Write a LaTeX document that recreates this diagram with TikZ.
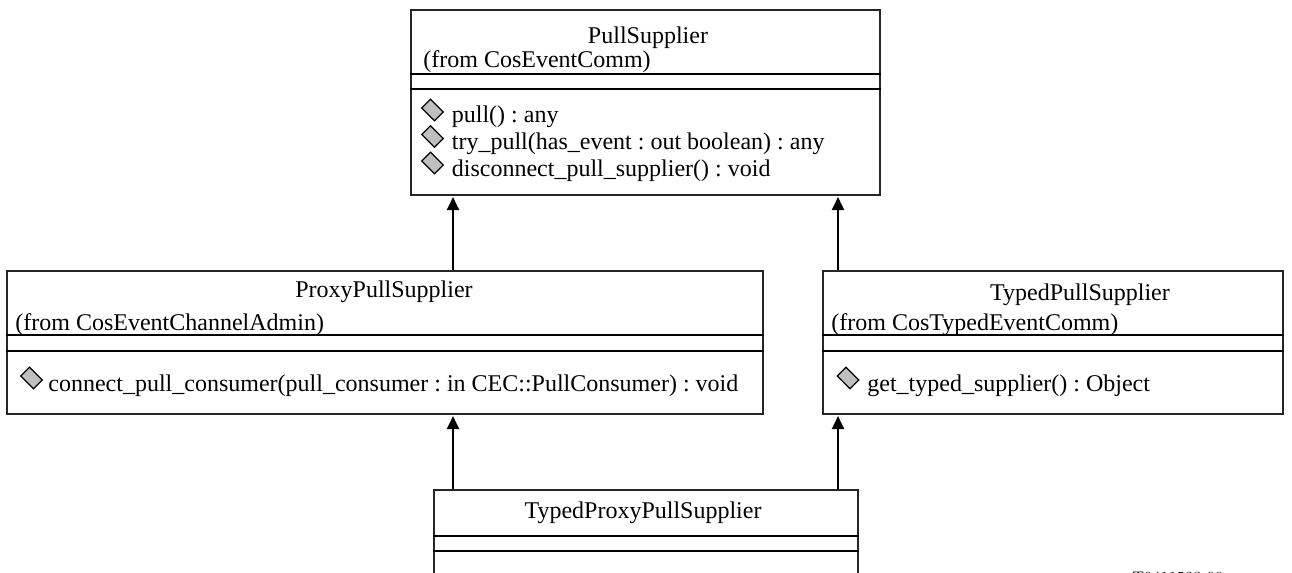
\documentclass[tikz,border=0pt]{standalone}
\usepackage{fontspec}
\setmainfont{Liberation Serif}
\usetikzlibrary{positioning,arrows.meta}
\tikzset{%
  inh/.style={%
    -{Triangle[length=6.5pt,width=6pt]},
    line width=1pt,
    shorten >=0.75pt
  },
  classbox/.style={%
    draw=black!85,
    line width=0.55pt,
    inner sep=0pt
  },
  sep/.style={%
    line width=1pt
  },
  opmark/.style={%
    rectangle,
    draw=black,
    fill=black!25,
    line width=0.6pt,
    inner sep=0pt,
    minimum width=9pt,
    minimum height=6.2pt,
    rotate=-45
  },
  boxlbl/.style={%
    anchor=base,
    inner sep=0pt,
    font=\fontsize{12}{14}\selectfont\frenchspacing
  },
  leftlbl/.style={%
    boxlbl,
    anchor=base west
  }
}

\begin{document}
\begin{tikzpicture}[x=0.5pt,y=-0.5pt]
    \clip (0,0) rectangle (1292,573);
    \useasboundingbox (0,0) rectangle (1292,573);

    % top class
    \node[classbox,minimum width=234.5pt,minimum height=92.5pt] (pull) at (645.5,102.5) {};
    \draw[sep]
    (pull.west |- 0,74) -- (pull.east |- 0,74)
    (pull.west |- 0,89) -- (pull.east |- 0,89);
    \node[boxlbl] (pullname) at (648,43) {PullSupplier};
    \node[leftlbl] (pullfrom) at (423,68) {(from CosEventComm)};
    \node[opmark] (m1) at (432.5,110) {};
    \node[opmark] (m2) at (432.5,136.5) {};
    \node[opmark] (m3) at (432.5,163) {};
    \node[leftlbl] (op1) at (451.5,122) {pull() : any};
    \node[leftlbl] (op2) at (451.5,149) {try\_pull(has\_event : out boolean) : any};
    \node[leftlbl] (op3) at (451.5,176) {disconnect\_pull\_supplier() : void};

    % proxy
    \node[classbox,minimum width=378pt,minimum height=71.5pt] (proxy) at (385,342.5) {};
    \draw[sep]
    (proxy.west |- 0,335) -- (proxy.east |- 0,335)
    (proxy.west |- 0,351) -- (proxy.east |- 0,351);
    \node[boxlbl] (proxyname) at (384,297) {ProxyPullSupplier};
    \node[leftlbl] (proxyfrom) at (15,330) {(from CosEventChannelAdmin)};
    \node[opmark] (m4) at (31.5,378) {};
    \node[leftlbl] (op4) at (48,391) {connect\_pull\_consumer(pull\_consumer : in CEC::PullConsumer) : void};

    % typed
    \node[classbox,minimum width=230pt,minimum height=71.5pt] (typed) at (1053,342.5) {};
    \draw[sep]
    (typed.west |- 0,335) -- (typed.east |- 0,335)
    (typed.west |- 0,351) -- (typed.east |- 0,351);
    \node[boxlbl] (typedname) at (1080,300) {TypedPullSupplier};
    \node[leftlbl] (typedfrom) at (831,330) {(from CosTypedEventComm)};
    \node[opmark] (m5) at (848,378) {};
    \node[leftlbl] (op5) at (867,391) {get\_typed\_supplier() : Object};

    % bottom class, runs off the page
    \node[classbox,minimum width=212pt,minimum height=41.6pt] (tpps) at (646,531.6) {};
    \draw[sep]
    (tpps.west |- 0,536) -- (tpps.east |- 0,536)
    (tpps.west |- 0,551) -- (tpps.east |- 0,551);
    \node[boxlbl] (tppsname) at (643,518) {TypedProxyPullSupplier};
    \node[leftlbl,font=\fontsize{7.7}{9}\fontfamily{LiberationSans(0)}\selectfont] (tag) at (1132,582) {T0411523-99};

    \coordinate (laneA) at (453,0);
    \coordinate (laneB) at (838,0);
    \draw[inh] (proxy.north -| laneA) -- (pull.south -| laneA);
    \draw[inh] (typed.north -| laneB) -- (pull.south -| laneB);
    \draw[inh] (tpps.north -| laneA) -- (proxy.south -| laneA);
    \draw[inh] (tpps.north -| laneB) -- (typed.south -| laneB);
  \end{tikzpicture}
\end{document}
